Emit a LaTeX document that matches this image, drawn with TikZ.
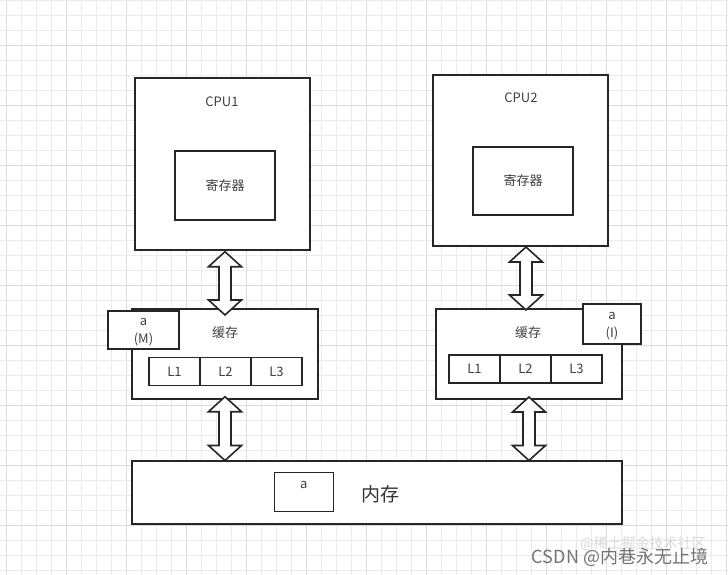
\documentclass[tikz,border=0pt]{standalone}
\usepackage{fontspec}
\setmainfont{Noto Sans CJK SC}
\usetikzlibrary{calc}
\begin{document}
\begin{tikzpicture}[x=1pt,y=-1pt,
  box/.style={draw=black!85,line width=1.6pt,fill=white,inner sep=0pt},
  cell/.style={box,minimum width=51pt,minimum height=28pt,font=\fontsize{13}{15}\selectfont,text=black!75},
  txt/.style={font=\fontsize{13}{15}\selectfont,text=black!75,inner sep=0pt},
  arr/.style={draw=black!85,line width=1.6pt,fill=white,line join=miter}]
\newcommand\dblarr[2]{\draw[arr] (#1) -- ($(#1)+(16.5,15)$) -- ($(#1)+(6,15)$) -- ($(#2)+(6,-15)$) -- ($(#2)+(16.5,-15)$) -- (#2) -- ($(#2)+(-16.5,-15)$) -- ($(#2)+(-6,-15)$) -- ($(#1)+(-6,15)$) -- ($(#1)+(-16.5,15)$) -- cycle;}
% background and grid
\fill[white] (0,0) rectangle (728,575);
\useasboundingbox (0,0) rectangle (728,575);
\foreach \i in {0,...,48} {
  \pgfmathtruncatemacro\m{mod(\i,4)}
  \ifnum\m=0 \draw[black!14,line width=0.8pt] ({6.7+15*\i},0) -- ({6.7+15*\i},575);
  \else \draw[black!8,line width=0.8pt] ({6.7+15*\i},0) -- ({6.7+15*\i},575); \fi
}
\foreach \i in {0,...,38} {
  \pgfmathtruncatemacro\m{mod(\i,4)}
  \ifnum\m=3 \draw[black!14,line width=0.8pt] (0,{0+15*\i}) -- (728,{0+15*\i});
  \else \draw[black!8,line width=0.8pt] (0,{0+15*\i}) -- (728,{0+15*\i}); \fi
}
% CPU1
\node[box,minimum width=175pt,minimum height=172pt] (cpu1) at (222.5,164) {};
\node[txt] (cpu1t) at (222,102) {CPU1};
\node[box,minimum width=100pt,minimum height=69pt,font=\fontsize{13}{15}\selectfont,text=black!75] (reg1) at (225,185.5) {寄存器};
% CPU2
\node[box,minimum width=175pt,minimum height=171pt] (cpu2) at (520.5,160.5) {};
\node[txt] (cpu2t) at (521,98) {CPU2};
\node[box,minimum width=100pt,minimum height=68pt,font=\fontsize{13}{15}\selectfont,text=black!75] (reg2) at (523,181) {寄存器};
% Cache 1
\node[box,minimum width=186pt,minimum height=90pt] (cache1) at (225,354) {};
\node[txt] (cache1t) at (225,333) {缓存};
\node[box,minimum width=71pt,minimum height=38pt] (am) at (143.5,330) {};
\node[txt] (amt1) at (143.5,322) {a};
\node[txt] (amt2) at (143.5,339) {(M)};
\node[cell] (c1l1) at (174.5,371.5) {L1};
\node[cell] (c1l2) at (225.5,371.5) {L2};
\node[cell] (c1l3) at (276.5,371.5) {L3};
% Cache 2
\node[box,minimum width=186pt,minimum height=90pt] (cache2) at (529,354) {};
\node[txt] (cache2t) at (528,333) {缓存};
\node[box,minimum width=58pt,minimum height=40pt] (ai) at (612,324) {};
\node[txt] (ait1) at (612,316) {a};
\node[txt] (ait2) at (612,333) {(I)};
\node[cell] (c2l1) at (474.5,369) {L1};
\node[cell] (c2l2) at (525.5,369) {L2};
\node[cell] (c2l3) at (576.5,369) {L3};
% Memory
\node[box,minimum width=490pt,minimum height=63pt] (mem) at (377,492.5) {};
\node[box,minimum width=59pt,minimum height=39pt] (ma) at (303.8,492) {};
\node[txt] (mat) at (303.8,485) {a};
\node[font=\fontsize{19}{21}\selectfont,text=black!80,inner sep=0pt] (memt) at (380,494) {内存};
% arrows
\coordinate (a1t) at (225,251.7);
\coordinate (a1b) at (225,315);
\coordinate (a2t) at (225,396.7);
\coordinate (a2b) at (225,460.5);
\coordinate (a3t) at (526,247);
\coordinate (a3b) at (526,310);
\coordinate (a4t) at (529,397);
\coordinate (a4b) at (529,460.5);
\dblarr{a1t}{a1b}
\dblarr{a2t}{a2b}
\dblarr{a3t}{a3b}
\dblarr{a4t}{a4b}
% watermark
\node[font=\fontsize{14}{16}\selectfont,text=black!15,inner sep=0pt] (wm2) at (643,544) {@稀土掘金技术社区};
\node[font=\fontsize{18}{20}\selectfont,text=black!55,inner sep=0pt] (wm1) at (620,557) {CSDN @内巷永无止境};
\end{tikzpicture}
\end{document}
